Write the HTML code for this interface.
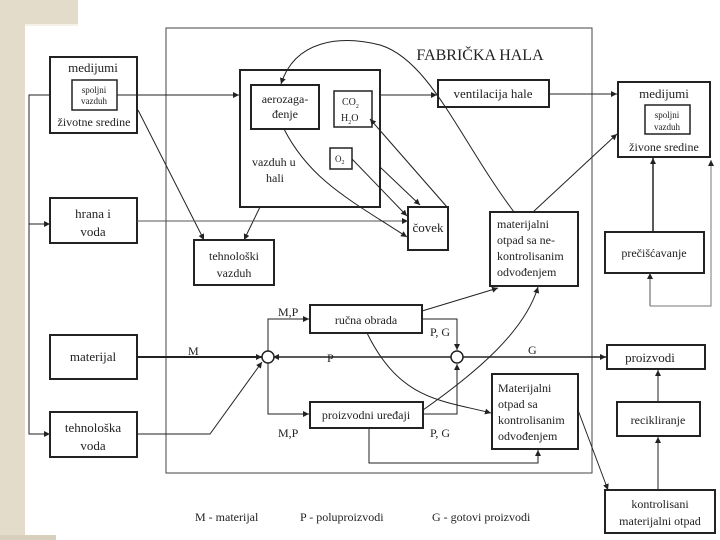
<!DOCTYPE html>
<html><head><meta charset="utf-8"><style>
html,body{margin:0;padding:0;width:720px;height:540px;overflow:hidden;background:#fff}
svg text{font-family:"Liberation Serif",serif;fill:#222}
</style></head><body>
<svg width="720" height="540" viewBox="0 0 720 540" xmlns="http://www.w3.org/2000/svg">
<defs>
<marker id="a" markerWidth="7" markerHeight="7" refX="6" refY="3" orient="auto" markerUnits="userSpaceOnUse"><path d="M0,0 L6,3 L0,6 z" fill="#222"/></marker>
</defs>
<rect x="0" y="0" width="720" height="540" fill="#fff"/>
<rect x="0" y="0" width="25" height="540" fill="#e3dccb"/>
<rect x="0" y="0" width="78" height="25" fill="#e3dccb"/>
<rect x="0" y="535" width="56" height="5" fill="#d8d0bc"/>
<path d="M25,25 H78" stroke="#f5f1e6" stroke-width="2"/>
<g fill="none" stroke="#222" stroke-width="1">
<rect x="166" y="28" width="426" height="445" stroke="#444"/>
<rect x="50" y="57" width="87" height="76" stroke-width="2"/>
<rect x="72" y="80" width="45" height="30" stroke-width="1.5"/>
<rect x="50" y="198" width="87" height="45" stroke-width="2"/>
<rect x="50" y="335" width="87" height="44" stroke-width="2"/>
<rect x="50" y="412" width="87" height="45" stroke-width="2"/>
<path d="M50,95 H29 V434 H35" />
<path d="M29,224 H50" marker-end="url(#a)"/>
<path d="M29,434 H50" marker-end="url(#a)"/>
<rect x="240" y="70" width="140" height="137" stroke-width="2"/>
<rect x="251" y="85" width="68" height="44" stroke-width="2"/>
<rect x="334" y="91" width="38" height="36" stroke-width="1.5"/>
<rect x="330" y="148" width="22" height="21" stroke-width="1.5"/>
<rect x="194" y="240" width="80" height="45" stroke-width="2"/>
<rect x="408" y="207" width="40" height="43" stroke-width="2"/>
<rect x="438" y="80" width="111" height="27" stroke-width="2"/>
<rect x="490" y="212" width="88" height="74" stroke-width="2"/>
<rect x="618" y="82" width="92" height="75" stroke-width="2"/>
<rect x="645" y="105" width="45" height="29" stroke-width="1.5"/>
<rect x="605" y="232" width="99" height="41" stroke-width="2"/>
<rect x="607" y="345" width="98" height="24" stroke-width="2"/>
<rect x="617" y="402" width="83" height="34" stroke-width="2"/>
<rect x="605" y="490" width="110" height="43" stroke-width="2"/>
<rect x="310" y="305" width="112" height="28" stroke-width="2"/>
<rect x="310" y="402" width="113" height="26" stroke-width="2"/>
<rect x="492" y="374" width="86" height="75" stroke-width="2"/>
<path d="M117,95 H239" marker-end="url(#a)"/>
<path d="M138,110 L204,240" marker-end="url(#a)"/>
<path d="M260,207 L244,240" marker-end="url(#a)"/>
<path d="M137,221 H408" stroke="#555" marker-end="url(#a)"/>
<path d="M380,95 H437" marker-end="url(#a)"/>
<path d="M549,94 H617" marker-end="url(#a)"/>
<path d="M514,212 C460,140 430,60 380,45 C340,35 295,40 281,84" marker-end="url(#a)"/>
<path d="M284,129 C310,180 350,200 407,237" marker-end="url(#a)"/>
<path d="M352,159 L407,216" marker-end="url(#a)"/>
<path d="M380,167 L420,205" marker-end="url(#a)"/>
<path d="M447,207 L370,119" marker-end="url(#a)"/>
<path d="M533,212 L617,134" marker-end="url(#a)"/>
<path d="M653,232 V158" stroke-width="1.5" marker-end="url(#a)"/>
<path d="M650,306 V273" stroke="#555" marker-end="url(#a)"/>
<path d="M650,306 H711 V160" stroke="#777"/>
<path d="M711,166 V160" stroke="#777" marker-end="url(#a)"/>
<path d="M658,402 V370" marker-end="url(#a)"/>
<path d="M658,490 V437" marker-end="url(#a)"/>
<path d="M578,410 L608,490" marker-end="url(#a)"/>
<path d="M137,357 H262" stroke-width="2" marker-end="url(#a)"/>
<path d="M137,434 H210 L262,362" marker-end="url(#a)"/>
<path d="M451,357 H273" stroke-width="1.5" marker-end="url(#a)"/>
<path d="M463,357 H606" stroke-width="1.5" marker-end="url(#a)"/>
<path d="M268,351 V319 H309" marker-end="url(#a)"/>
<path d="M268,363 V414 H309" marker-end="url(#a)"/>
<path d="M422,319 H457 V350" marker-end="url(#a)"/>
<path d="M423,414 H457 V364" marker-end="url(#a)"/>
<path d="M422,311 L498,288" marker-end="url(#a)"/>
<path d="M423,410 C480,370 525,330 538,287" marker-end="url(#a)"/>
<path d="M367,333 C400,400 440,400 491,413" marker-end="url(#a)"/>
<path d="M369,428 V463 H538 V450" marker-end="url(#a)"/>
</g>
<circle cx="268" cy="357" r="6" fill="#fff" stroke="#222" stroke-width="1.5"/>
<circle cx="457" cy="357" r="6" fill="#fff" stroke="#222" stroke-width="1.5"/>
<g font-size="12">
<text x="93" y="72" text-anchor="middle" font-size="13">medijumi</text>
<text x="94" y="93" text-anchor="middle" font-size="9">spoljni</text>
<text x="94" y="104" text-anchor="middle" font-size="9">vazduh</text>
<text x="94" y="126" text-anchor="middle" font-size="12">životne sredine</text>
<text x="93" y="218" text-anchor="middle" font-size="13">hrana i</text>
<text x="93" y="236" text-anchor="middle" font-size="13">voda</text>
<text x="93" y="361" text-anchor="middle" font-size="13">materijal</text>
<text x="93" y="432" text-anchor="middle" font-size="13">tehnološka</text>
<text x="93" y="450" text-anchor="middle" font-size="13">voda</text>
<text x="480" y="60" text-anchor="middle" font-size="16">FABRIČKA HALA</text>
<text x="285" y="103" text-anchor="middle">aerozaga-</text>
<text x="285" y="118" text-anchor="middle">đenje</text>
<text x="342" y="105" font-size="10">CO<tspan font-size="6" dy="3">2</tspan></text>
<text x="341" y="121" font-size="10">H<tspan font-size="6" dy="3">2</tspan><tspan dy="-3">O</tspan></text>
<text x="335" y="162" font-size="9">O<tspan font-size="6" dy="2">2</tspan></text>
<text x="252" y="166">vazduh u</text>
<text x="266" y="182">hali</text>
<text x="234" y="260" text-anchor="middle">tehnološki</text>
<text x="234" y="277" text-anchor="middle">vazduh</text>
<text x="428" y="232" text-anchor="middle" font-size="13">čovek</text>
<text x="493" y="98" text-anchor="middle" font-size="13">ventilacija hale</text>
<text x="497" y="228">materijalni</text>
<text x="497" y="244">otpad sa ne-</text>
<text x="497" y="260">kontrolisanim</text>
<text x="497" y="276">odvođenjem</text>
<text x="664" y="98" text-anchor="middle" font-size="13">medijumi</text>
<text x="667" y="118" text-anchor="middle" font-size="9">spoljni</text>
<text x="667" y="130" text-anchor="middle" font-size="9">vazduh</text>
<text x="664" y="151" text-anchor="middle">živone sredine</text>
<text x="654" y="257" text-anchor="middle">prečišćavanje</text>
<text x="650" y="362" text-anchor="middle" font-size="13">proizvodi</text>
<text x="658" y="424" text-anchor="middle">recikliranje</text>
<text x="660" y="508" text-anchor="middle">kontrolisani</text>
<text x="660" y="525" text-anchor="middle">materijalni otpad</text>
<text x="366" y="324" text-anchor="middle">ručna obrada</text>
<text x="366" y="419" text-anchor="middle">proizvodni uređaji</text>
<text x="498" y="392">Materijalni</text>
<text x="498" y="408">otpad sa</text>
<text x="498" y="424">kontrolisanim</text>
<text x="498" y="440">odvođenjem</text>
<text x="278" y="316">M,P</text>
<text x="278" y="437">M,P</text>
<text x="430" y="336">P, G</text>
<text x="430" y="437">P, G</text>
<text x="188" y="355">M</text>
<text x="327" y="362">P</text>
<text x="528" y="354">G</text>
<text x="195" y="521">M - materijal</text>
<text x="300" y="521">P - poluproizvodi</text>
<text x="432" y="521">G - gotovi proizvodi</text>
</g>
</svg>
</body></html>
